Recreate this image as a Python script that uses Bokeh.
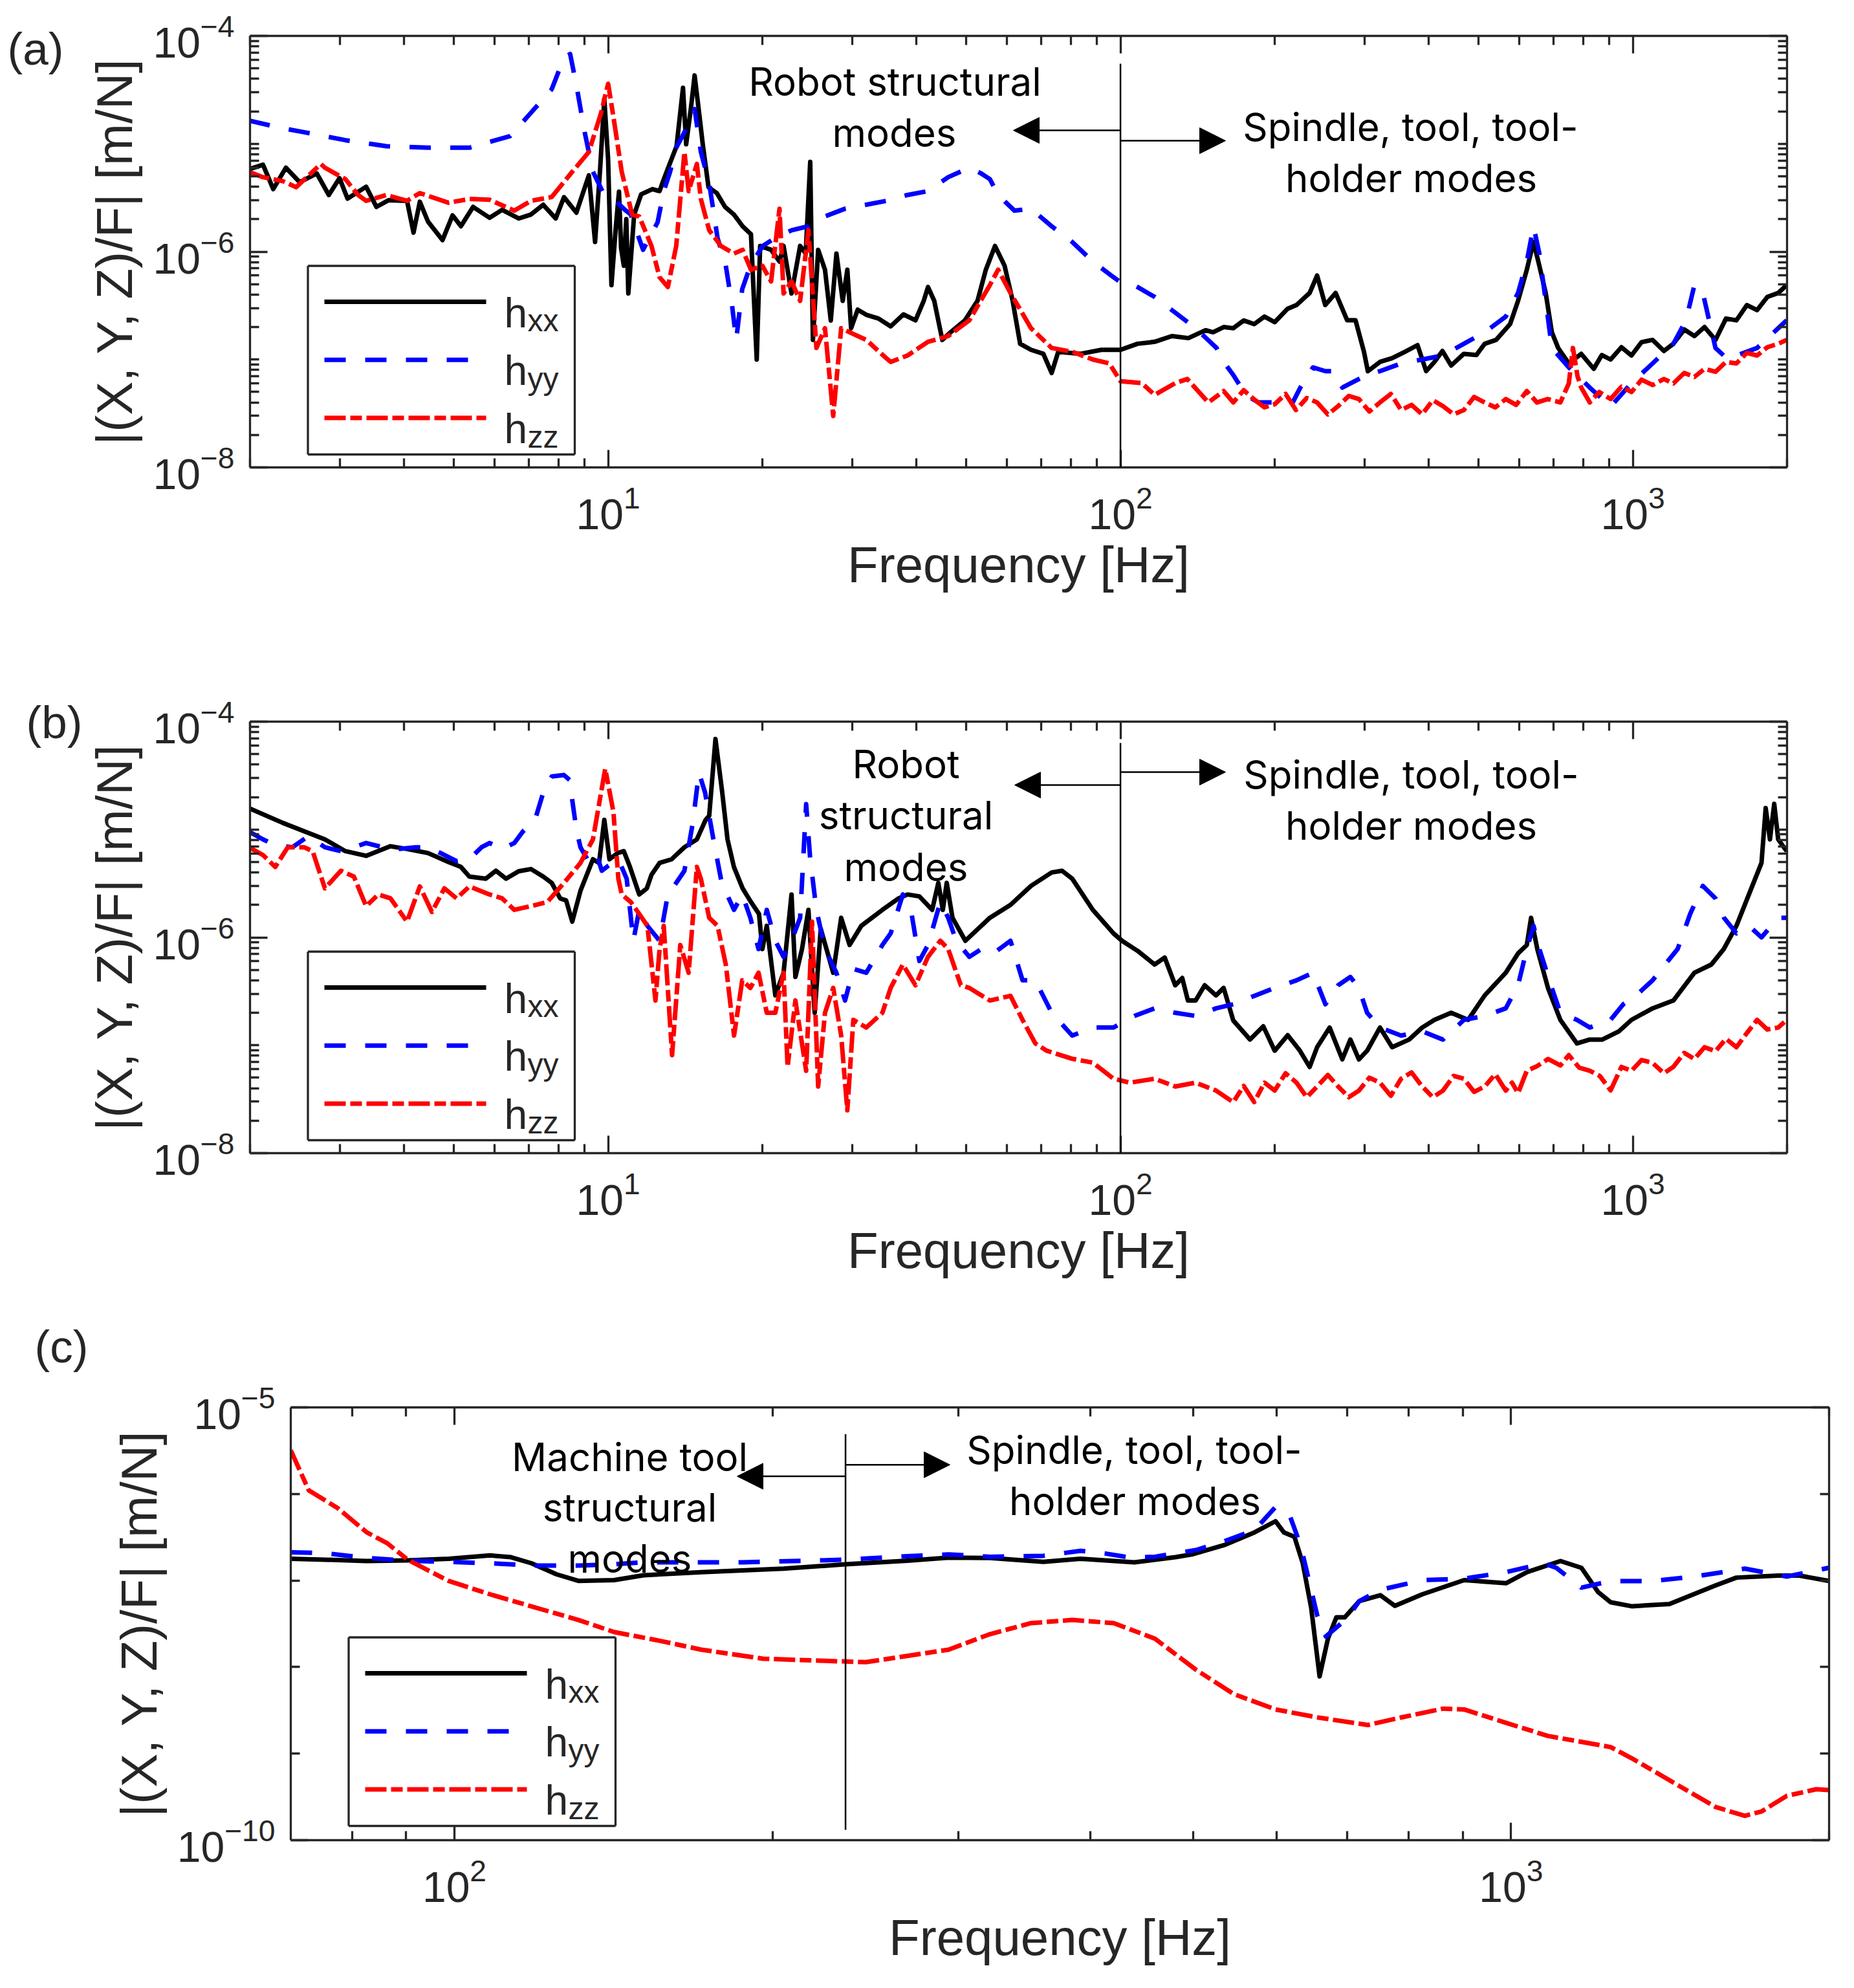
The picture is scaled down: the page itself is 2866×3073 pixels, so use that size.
import math
from bokeh.plotting import figure
from bokeh.models import LogAxis, FixedTicker, Label, Arrow, NormalHead, BoxAnnotation
from bokeh.layouts import column
from bokeh.embed import file_html
from bokeh.resources import INLINE

# values: (frequency [Hz], |X/F| [m/N])
# --- panel (a) ---
a_xx = [(1.99, 5.8e-6), (2.12, 6.4e-6), (2.22, 3.8e-6), (2.35, 6.0e-6), (2.5, 4.4e-6), (2.7, 5.3e-6),
        (2.85, 3.35e-6), (2.99, 4.8e-6), (3.1, 3.1e-6), (3.37, 4.0e-6), (3.53, 2.6e-6), (3.73, 3.0e-6),
        (4.05, 2.96e-6), (4.17, 1.5e-6), (4.29, 2.9e-6), (4.45, 1.9e-6), (4.75, 1.28e-6), (4.97, 2.17e-6),
        (5.16, 1.72e-6), (5.45, 2.6e-6), (5.87, 2.06e-6), (6.21, 2.44e-6), (6.69, 2.03e-6), (7.07, 2.21e-6),
        (7.47, 2.72e-6), (7.9, 2.03e-6), (8.2, 3.2e-6), (8.67, 2.3e-6), (9.17, 5.1e-6), (9.43, 1.23e-6),
        (9.65, 6.0e-6), (9.83, 2.6e-5), (10.0, 7.1e-6), (10.15, 4.9e-7), (10.34, 1.58e-6), (10.5, 3.6e-6),
        (10.6, 1.08e-6), (10.73, 7.4e-7), (10.85, 2.0e-6), (10.95, 4.1e-7), (11.24, 2.2e-6), (11.6, 3.4e-6),
        (12.2, 3.8e-6), (12.6, 3.64e-6), (12.84, 4.68e-6), (13.1, 6.0e-6), (13.6, 9.5e-6), (14.0, 3.3e-5),
        (14.2, 9.9e-6), (14.5, 2.1e-5), (14.75, 4.3e-5), (15.05, 1.94e-5), (15.3, 9.9e-6), (15.7, 3.96e-6),
        (16.3, 3.49e-6), (16.9, 2.61e-6), (17.6, 2.21e-6), (18.3, 1.72e-6), (19.0, 1.45e-6), (19.5, 1.0e-7),
        (19.8, 1.13e-6), (20.8, 1.04e-6), (21.6, 8.1e-7), (22.0, 1.13e-6), (22.8, 4.1e-7), (23.7, 1.13e-6),
        (24.3, 9.6e-7), (24.8, 6.8e-6), (25.1, 1.52e-7), (25.7, 1.04e-6), (26.5, 6.8e-7), (27.2, 2.3e-7),
        (27.9, 9.6e-7), (28.7, 3.5e-7), (29.3, 6.8e-7), (29.8, 1.95e-7), (30.7, 2.9e-7), (31.9, 2.6e-7),
        (33.7, 2.4e-7), (35.6, 2.03e-7), (37.7, 2.62e-7), (39.8, 2.31e-7), (41.3, 3.5e-7), (42.1, 4.7e-7),
        (43.3, 3.5e-7), (44.9, 1.52e-7), (46.6, 1.79e-7), (49.7, 2.31e-7), (52.6, 3.5e-7), (54.6, 6.8e-7),
        (56.9, 1.13e-6), (59.4, 7.4e-7), (61.6, 3.5e-7), (63.7, 1.4e-7), (66.9, 1.23e-7), (70.7, 1.13e-7),
        (73.4, 7.5e-8), (75.6, 1.18e-7), (83.6, 1.13e-7), (91.8, 1.23e-7), (100, 1.23e-7), (108, 1.4e-7),
        (116.6, 1.46e-7), (126, 1.65e-7), (135.7, 1.58e-7), (146.6, 1.87e-7), (151.6, 1.79e-7), (159, 2.0e-7),
        (166, 1.95e-7), (174, 2.3e-7), (182.4, 2.13e-7), (191, 2.5e-7), (200, 2.22e-7), (212, 2.96e-7),
        (220.6, 3.2e-7), (234, 4.14e-7), (242, 6.0e-7), (251, 3.2e-7), (263, 4.14e-7), (277, 2.31e-7),
        (287.6, 2.31e-7), (298.7, 1.18e-7), (304, 7.8e-8), (321, 9.5e-8), (339, 1.03e-7), (359, 1.18e-7),
        (380, 1.36e-7), (395, 7.8e-8), (410, 9.5e-8), (425, 1.2e-7), (442, 8.8e-8), (468, 1.13e-7),
        (495, 1.1e-7), (514, 1.4e-7), (541, 1.52e-7), (576, 2.13e-7), (597, 3.5e-7), (621, 6.8e-7),
        (640, 1.23e-6), (657, 7.4e-7), (676, 4.14e-7), (695, 1.79e-7), (715, 1.28e-7), (750, 9.2e-8),
        (793, 1.13e-7), (839, 8.2e-8), (870, 1.1e-7), (905, 1.0e-7), (950, 1.3e-7), (994, 1.09e-7),
        (1040, 1.45e-7), (1093, 1.52e-7), (1150, 1.2e-7), (1200, 1.4e-7), (1260, 1.9e-7), (1319, 1.65e-7),
        (1380, 2.0e-7), (1450, 1.52e-7), (1520, 2.4e-7), (1593, 2.31e-7), (1670, 3.2e-7), (1748, 2.87e-7),
        (1830, 3.8e-7), (1922, 4.14e-7), (1997, 4.9e-7)]
a_yy = [(1.99, 1.64e-5), (2.32, 1.39e-5), (2.55, 1.28e-5), (3.07, 1.08e-5), (3.69, 9.5e-6), (4.45, 9.2e-6),
        (5.36, 9.2e-6), (5.87, 1.04e-5), (6.44, 1.18e-5), (7.07, 1.94e-5), (7.76, 3.2e-5), (8.2, 6.3e-5),
        (8.43, 6.8e-5), (8.67, 3.5e-5), (9.0, 1.28e-5), (9.34, 5.5e-6), (9.83, 3.35e-6), (10.24, 3.08e-6),
        (10.83, 2.4e-6), (11.07, 2.21e-6), (11.7, 1.04e-6), (12.03, 1.34e-6), (12.49, 1.87e-6), (12.84, 3.64e-6),
        (13.21, 5.5e-6), (13.58, 9.2e-6), (14.09, 1.28e-5), (14.75, 2.1e-5), (15.17, 8.4e-6), (15.75, 4.3e-6),
        (16.35, 1.34e-6), (16.97, 7.4e-7), (17.45, 3.2e-7), (17.78, 1.52e-7), (18.27, 4.5e-7), (18.95, 7.4e-7),
        (20.03, 1.13e-6), (21.18, 1.34e-6), (22.82, 1.58e-6), (24.58, 1.72e-6), (26.46, 2.12e-6), (29.0, 2.5e-6),
        (31.86, 2.72e-6), (34.93, 2.96e-6), (38.35, 3.35e-6), (42.1, 3.64e-6), (46.1, 4.9e-6), (50.7, 6.0e-6),
        (53.5, 5.3e-6), (55.6, 4.7e-6), (57.7, 3.35e-6), (62.1, 2.4e-6), (66.9, 2.5e-6), (73.4, 1.72e-6),
        (80.5, 1.23e-6), (88.3, 8.1e-7), (96.9, 5.8e-7), (100.7, 5.1e-7), (106.4, 4.9e-7), (116.6, 3.8e-7),
        (127.9, 2.72e-7), (140.2, 1.95e-7), (145.5, 1.65e-7), (154, 1.28e-7), (159.8, 9.2e-8), (166, 7.2e-8),
        (175.7, 4.7e-8), (185.8, 4.0e-8), (200, 4.0e-8), (216, 3.85e-8), (224.4, 5.5e-8), (237.5, 8.45e-8),
        (251.2, 7.8e-8), (260.9, 7.8e-8), (271, 5.5e-8), (292, 6.6e-8), (303, 7.2e-8), (321, 7.8e-8),
        (353, 9.2e-8), (388, 1.0e-7), (426, 1.09e-7), (468, 1.4e-7), (514, 1.79e-7), (565, 2.5e-7),
        (597, 4.14e-7), (621, 8.1e-7), (640, 1.72e-6), (657, 9.6e-7), (676, 3.5e-7), (695, 1.28e-7),
        (750, 8.45e-8), (824, 5.5e-8), (905, 3.66e-8), (994, 6.05e-8), (1093, 9.2e-8), (1200, 1.4e-7),
        (1270, 2.31e-7), (1319, 4.9e-7), (1370, 4.14e-7), (1450, 1.28e-7), (1534, 1.0e-7), (1593, 1.09e-7),
        (1748, 1.28e-7), (1922, 1.95e-7), (1997, 2.31e-7)]
a_zz = [(1.99, 5.5e-6), (2.12, 4.9e-6), (2.32, 4.5e-6), (2.46, 3.96e-6), (2.75, 6.5e-6), (2.8, 6.0e-6),
        (3.07, 4.7e-6), (3.25, 3.35e-6), (3.37, 2.96e-6), (3.69, 3.35e-6), (4.05, 2.96e-6), (4.29, 3.49e-6),
        (4.88, 2.84e-6), (5.36, 3.08e-6), (5.87, 3.03e-6), (6.56, 2.4e-6), (7.07, 2.96e-6), (7.76, 3.21e-6),
        (8.51, 5.5e-6), (9.17, 8.4e-6), (9.69, 1.94e-5), (10.0, 3.6e-5), (10.24, 1.78e-5), (10.63, 5.5e-6),
        (11.14, 2.2e-6), (11.5, 2.12e-6), (12.15, 1.13e-6), (12.6, 5.8e-7), (13.08, 4.7e-7), (13.58, 1.13e-6),
        (14.09, 8.4e-6), (14.36, 3.64e-6), (14.9, 6.5e-6), (15.17, 3.08e-6), (15.75, 1.58e-6), (16.6, 1.13e-6),
        (17.6, 9.6e-7), (18.3, 1.04e-6), (19.0, 6.8e-7), (20.0, 7.4e-7), (20.8, 5.3e-7), (21.6, 2.5e-6),
        (22.0, 4.1e-7), (22.8, 5.3e-7), (23.7, 3.5e-7), (24.6, 1.58e-6), (25.5, 1.28e-7), (26.5, 1.95e-7),
        (27.5, 3.0e-8), (28.5, 1.95e-7), (29.6, 1.79e-7), (31.9, 1.52e-7), (34.9, 1.03e-7), (35.6, 9.5e-8),
        (38.4, 1.09e-7), (42.1, 1.46e-7), (46.1, 1.65e-7), (50.7, 2.31e-7), (55.6, 4.9e-7), (57.7, 6.8e-7),
        (61.0, 4.14e-7), (66.9, 1.95e-7), (73.4, 1.28e-7), (80.5, 1.18e-7), (88.3, 1.0e-7), (95.1, 9.2e-8),
        (100, 6.3e-8), (110, 6.05e-8), (116.6, 4.7e-8), (128, 6.05e-8), (135, 6.6e-8), (148.4, 4.0e-8),
        (159, 5.1e-8), (166, 4.0e-8), (174, 5.2e-8), (182, 4.3e-8), (191, 3.6e-8), (200, 3.85e-8),
        (210, 4.8e-8), (220, 3.4e-8), (231, 4.4e-8), (242, 4.0e-8), (254, 3.1e-8), (266, 3.7e-8),
        (279, 4.6e-8), (292, 4.3e-8), (306, 3.3e-8), (321, 4.0e-8), (337, 4.8e-8), (353, 3.4e-8),
        (370, 3.8e-8), (388, 3.1e-8), (407, 4.2e-8), (426, 3.7e-8), (447, 3.1e-8), (468, 3.4e-8),
        (490, 4.5e-8), (514, 4.0e-8), (539, 3.6e-8), (565, 4.3e-8), (592, 3.8e-8), (621, 5.1e-8),
        (650, 4.0e-8), (682, 4.3e-8), (722, 4.0e-8), (750, 6.0e-8), (764, 1.28e-7), (780, 7.0e-8),
        (793, 5.5e-8), (824, 4.0e-8), (860, 5.0e-8), (905, 4.3e-8), (950, 5.6e-8), (994, 5.0e-8),
        (1040, 6.5e-8), (1093, 5.8e-8), (1150, 6.6e-8), (1200, 6.0e-8), (1260, 7.5e-8), (1319, 6.9e-8),
        (1380, 8.2e-8), (1450, 7.7e-8), (1520, 9.5e-8), (1593, 9.2e-8), (1670, 1.15e-7), (1748, 1.09e-7),
        (1830, 1.3e-7), (1922, 1.4e-7), (1997, 1.52e-7)]

# --- panel (b) ---
b_xx = [(1.99, 1.58e-5), (2.32, 1.15e-5), (2.8, 8.1e-6), (3.07, 6.3e-6), (3.37, 5.7e-6), (3.76, 7.0e-6),
        (4.05, 6.6e-6), (4.45, 6.05e-6), (4.88, 5.0e-6), (5.16, 4.5e-6), (5.36, 3.66e-6), (5.77, 3.5e-6),
        (6.04, 4.15e-6), (6.32, 3.5e-6), (6.69, 4.1e-6), (7.07, 4.3e-6), (7.47, 3.66e-6), (7.76, 3.2e-6),
        (8.06, 2.3e-6), (8.28, 2.2e-6), (8.51, 1.4e-6), (8.83, 2.7e-6), (9.34, 5.3e-6), (9.6, 4.9e-6),
        (9.83, 1.23e-5), (10.06, 5.3e-6), (10.44, 6.05e-6), (10.73, 6.3e-6), (11.03, 4.5e-6), (11.5, 2.5e-6),
        (11.9, 2.85e-6), (12.15, 3.8e-6), (12.6, 4.9e-6), (13.3, 5.3e-6), (14.09, 6.85e-6), (14.9, 8.1e-6),
        (15.5, 1.23e-5), (15.75, 1.34e-5), (16.2, 6.9e-5), (16.7, 2.2e-5), (17.1, 8.1e-6), (17.6, 4.5e-6),
        (18.3, 2.85e-6), (19.0, 2.13e-6), (19.7, 1.65e-6), (20.0, 7.8e-7), (20.4, 1.28e-6), (21.2, 2.9e-7),
        (22.0, 4.7e-7), (22.8, 2.5e-6), (23.2, 4.3e-7), (23.9, 7.8e-7), (24.6, 1.8e-6), (25.3, 2.0e-7),
        (26.0, 1.2e-6), (27.5, 4.7e-7), (28.5, 1.52e-6), (29.6, 8.5e-7), (31.2, 1.28e-6), (34.3, 1.8e-6),
        (36.9, 2.3e-6), (38.4, 2.5e-6), (40.5, 2.4e-6), (42.9, 1.8e-6), (44.1, 3.2e-6), (45.0, 1.8e-6),
        (45.8, 3.2e-6), (47.0, 1.52e-6), (49.8, 9.3e-7), (51.6, 1.09e-6), (55.6, 1.52e-6), (61.0, 2.0e-6),
        (66.9, 3.0e-6), (73.4, 4.0e-6), (76.9, 4.15e-6), (80.5, 3.5e-6), (88.3, 1.8e-6), (96.9, 1.09e-6),
        (100.7, 9.3e-7), (108, 7.5e-7), (116.6, 5.6e-7), (122, 6.5e-7), (127.9, 3.6e-7), (132, 4.2e-7),
        (135.4, 2.6e-7), (140.2, 2.6e-7), (146, 3.6e-7), (153.6, 2.9e-7), (159, 3.4e-7), (166, 1.7e-7),
        (179, 1.13e-7), (190, 1.5e-7), (200, 8.9e-8), (212, 1.24e-7), (224, 8.9e-8), (234, 6.3e-8),
        (242, 9.6e-8), (256, 1.46e-7), (271, 7.4e-8), (281, 1.13e-7), (292, 7.4e-8), (303, 8.9e-8),
        (321, 1.46e-7), (339, 9.6e-8), (366, 1.13e-7), (388, 1.46e-7), (410, 1.72e-7), (442, 2.0e-7),
        (477, 1.72e-7), (514, 2.9e-7), (565, 4.7e-7), (597, 7.1e-7), (621, 8.5e-7), (633, 1.52e-6),
        (651, 7.8e-7), (683, 3.4e-7), (722, 1.72e-7), (778, 1.04e-7), (824, 1.13e-7), (872, 1.13e-7),
        (940, 1.35e-7), (994, 1.72e-7), (1093, 2.2e-7), (1200, 2.6e-7), (1319, 4.7e-7), (1423, 5.6e-7),
        (1505, 7.8e-7), (1593, 1.28e-6), (1685, 2.5e-6), (1783, 4.9e-6), (1817, 1.58e-5), (1852, 8.1e-6),
        (1888, 1.73e-5), (1922, 8.1e-6), (1997, 6.3e-6)]
b_yy = [(1.99, 9.6e-6), (2.12, 8.1e-6), (2.24, 7.15e-6), (2.42, 6.85e-6), (2.6, 8.7e-6), (2.8, 6.85e-6),
        (3.01, 6.3e-6), (3.19, 6.85e-6), (3.37, 7.5e-6), (3.63, 6.85e-6), (3.91, 6.6e-6), (4.21, 6.85e-6),
        (4.45, 6.85e-6), (4.71, 6.05e-6), (5.06, 5.1e-6), (5.36, 5.3e-6), (5.66, 6.85e-6), (5.87, 7.5e-6),
        (6.21, 6.6e-6), (6.56, 7.5e-6), (6.82, 9.6e-6), (7.2, 1.23e-5), (7.47, 2.2e-5), (7.76, 3.1e-5),
        (8.2, 3.2e-5), (8.43, 2.85e-5), (8.51, 1.88e-5), (8.67, 1.0e-5), (8.83, 6.85e-6), (9.2, 4.9e-6),
        (9.5, 5.8e-6), (9.72, 4.15e-6), (10.0, 4.6e-6), (10.47, 5.3e-6), (10.87, 3.5e-6), (11.2, 9.3e-7),
        (11.5, 1.8e-6), (11.93, 1.28e-6), (12.6, 9.3e-7), (13.08, 2.5e-6), (13.58, 3.2e-6), (14.09, 4.15e-6),
        (14.62, 1.13e-5), (15.04, 3.37e-5), (15.46, 2.2e-5), (16.05, 8.1e-6), (16.66, 3.2e-6), (17.61, 1.8e-6),
        (18.27, 2.5e-6), (18.95, 1.52e-6), (19.66, 7.8e-7), (20.4, 1.8e-6), (21.2, 9.3e-7), (22.0, 6.6e-7),
        (22.8, 9.3e-7), (23.7, 1.52e-6), (24.35, 1.72e-5), (24.8, 5.3e-6), (25.5, 1.8e-6), (26.5, 7.8e-7),
        (27.9, 4.7e-7), (29.0, 2.6e-7), (30.1, 5.1e-7), (31.9, 4.7e-7), (34.3, 8.5e-7), (35.6, 1.09e-6),
        (37.6, 2.5e-6), (39.0, 1.8e-6), (40.5, 6.05e-7), (42.1, 8.5e-7), (44.5, 2.13e-6), (46.1, 1.52e-6),
        (47.8, 9.3e-7), (50.7, 6.6e-7), (53.5, 7.8e-7), (56.6, 7.15e-7), (61.0, 9.3e-7), (64.4, 4.0e-7),
        (68.2, 4.0e-7), (73.4, 2.0e-7), (80.5, 1.23e-7), (88.3, 1.46e-7), (96.9, 1.46e-7), (106.4, 1.87e-7),
        (116.6, 2.2e-7), (127.9, 2.0e-7), (140.2, 1.87e-7), (153.7, 2.2e-7), (166, 2.4e-7), (182.4, 2.87e-7),
        (200, 3.4e-7), (220.6, 4.0e-7), (237.5, 4.7e-7), (251.2, 2.4e-7), (266, 3.6e-7), (281, 4.3e-7),
        (292, 3.4e-7), (303, 2.0e-7), (321, 1.46e-7), (353, 1.23e-7), (388, 1.35e-7), (426, 1.13e-7),
        (468, 1.72e-7), (514, 1.87e-7), (565, 2.2e-7), (597, 3.6e-7), (621, 7.8e-7), (640, 1.28e-6),
        (657, 7.8e-7), (695, 3.4e-7), (722, 2.0e-7), (778, 1.72e-7), (824, 1.46e-7), (905, 1.72e-7),
        (958, 2.4e-7), (1013, 2.87e-7), (1093, 4.0e-7), (1156, 5.6e-7), (1223, 7.8e-7), (1294, 1.65e-6),
        (1370, 3.0e-6), (1450, 2.3e-6), (1506, 1.52e-6), (1593, 1.09e-6), (1685, 1.28e-6), (1783, 1.0e-6),
        (1922, 1.52e-6), (1997, 1.52e-6)]
b_zz = [(1.99, 6.85e-6), (2.12, 5.8e-6), (2.24, 4.5e-6), (2.37, 6.85e-6), (2.55, 6.85e-6), (2.65, 6.3e-6),
        (2.8, 2.85e-6), (3.01, 4.15e-6), (3.19, 3.66e-6), (3.37, 1.95e-6), (3.56, 2.5e-6), (3.76, 2.3e-6),
        (4.05, 1.4e-6), (4.29, 2.97e-6), (4.53, 1.72e-6), (4.79, 2.85e-6), (5.06, 2.3e-6), (5.36, 2.97e-6),
        (5.87, 2.5e-6), (6.21, 2.3e-6), (6.56, 1.8e-6), (7.07, 1.95e-6), (7.61, 2.13e-6), (8.2, 3.2e-6),
        (8.83, 4.9e-6), (9.34, 8.1e-6), (9.87, 3.66e-5), (10.24, 1.46e-5), (10.47, 3.5e-6), (10.63, 2.5e-6),
        (11.07, 2.13e-6), (11.5, 1.65e-6), (11.93, 1.28e-6), (12.37, 2.6e-7), (12.6, 7.8e-7), (12.84, 1.28e-6),
        (13.33, 8.1e-8), (13.83, 8.5e-7), (14.36, 4.7e-7), (14.9, 4.5e-6), (15.17, 3.5e-6), (15.75, 1.52e-6),
        (16.35, 1.28e-6), (16.97, 5.6e-7), (17.61, 1.23e-7), (18.27, 4.0e-7), (18.95, 3.4e-7), (19.66, 4.7e-7),
        (20.4, 2.0e-7), (21.2, 2.0e-7), (22.0, 4.7e-7), (22.4, 6.3e-8), (23.2, 2.6e-7), (24.35, 5.8e-8),
        (25.0, 1.4e-6), (25.7, 4.15e-8), (26.5, 2.0e-7), (27.5, 3.4e-7), (28.5, 1.23e-7), (29.3, 2.5e-8),
        (30.1, 1.72e-7), (31.9, 1.46e-7), (34.3, 2.0e-7), (35.6, 3.4e-7), (37.6, 5.6e-7), (39.8, 3.6e-7),
        (42.1, 6.6e-7), (44.5, 9.3e-7), (46.1, 7.8e-7), (48.8, 3.6e-7), (50.7, 3.4e-7), (55.6, 2.6e-7),
        (61.0, 2.87e-7), (64.4, 1.72e-7), (68.2, 1.04e-7), (71.8, 8.9e-8), (80.5, 7.5e-8), (88.3, 6.9e-8),
        (96.9, 4.9e-8), (104.3, 4.5e-8), (116.6, 4.9e-8), (127.9, 4.15e-8), (140.2, 4.5e-8), (153.7, 3.8e-8),
        (166, 2.97e-8), (174, 4.2e-8), (182.4, 2.97e-8), (191, 4.5e-8), (200, 3.8e-8), (210, 5.5e-8),
        (220.6, 4.5e-8), (231, 3.3e-8), (242, 4.15e-8), (254, 5.3e-8), (266, 4.15e-8), (279, 3.3e-8),
        (292, 3.8e-8), (306, 5.0e-8), (321, 4.5e-8), (337, 3.4e-8), (353, 4.9e-8), (370, 5.6e-8),
        (388, 4.15e-8), (407, 3.3e-8), (426, 3.8e-8), (447, 5.2e-8), (468, 4.9e-8), (490, 3.7e-8),
        (514, 4.15e-8), (539, 5.4e-8), (565, 3.8e-8), (581, 4.5e-8), (597, 3.6e-8), (621, 5.8e-8),
        (650, 6.4e-8), (683, 7.46e-8), (722, 6.5e-8), (750, 8.1e-8), (786, 6.2e-8), (824, 5.8e-8),
        (862, 5.2e-8), (905, 3.82e-8), (950, 6.3e-8), (994, 5.8e-8), (1040, 7.3e-8), (1093, 6.86e-8),
        (1150, 5.5e-8), (1200, 6.31e-8), (1260, 8.5e-8), (1319, 7.46e-8), (1380, 9.6e-8), (1450, 8.81e-8),
        (1520, 1.15e-7), (1593, 9.6e-8), (1670, 1.3e-7), (1748, 1.72e-7), (1830, 1.4e-7), (1922, 1.46e-7),
        (1997, 1.72e-7)]

# --- panel (c) ---
c_xx = [(70.0, 1.78e-7), (75.5, 1.74e-7), (82.6, 1.68e-7), (90.3, 1.71e-7), (98.8, 1.78e-7), (108.1, 1.95e-7),
        (113.1, 1.86e-7), (118.3, 1.58e-7), (124.9, 1.18e-7), (131.0, 9.9e-8), (141.6, 1.01e-7), (151.0, 1.15e-7),
        (171.2, 1.25e-7), (204.9, 1.37e-7), (234.5, 1.54e-7), (268.4, 1.69e-7), (293.6, 1.84e-7), (321.2, 1.82e-7),
        (360.9, 1.64e-7), (391.3, 1.78e-7), (440.0, 1.62e-7), (481.3, 1.86e-7), (498.7, 2.0e-7), (536.4, 2.59e-7),
        (571.8, 3.6e-7), (598.5, 4.84e-7), (609.5, 3.6e-7), (623.7, 3.2e-7), (635.2, 1.58e-7), (646.9, 4.86e-8),
        (658.9, 7.8e-9), (671.0, 2.13e-8), (683.4, 3.75e-8), (696.0, 3.75e-8), (718.6, 5.8e-8), (752.2, 6.76e-8),
        (776.5, 5.09e-8), (824.0, 6.92e-8), (902.8, 1.01e-7), (989.1, 9.3e-8), (1035.4, 1.25e-7), (1113.9, 1.68e-7),
        (1165.8, 1.4e-7), (1209.0, 7.35e-8), (1242.6, 5.6e-8), (1300.6, 5.04e-8), (1412.0, 5.35e-8),
        (1561.3, 8.77e-8), (1634.3, 1.08e-7), (1790.6, 1.14e-7), (1874.6, 1.14e-7), (1998.6, 9.9e-8)]
c_yy = [(70.0, 2.12e-7), (75.5, 2.07e-7), (82.6, 1.82e-7), (90.3, 1.69e-7), (98.8, 1.64e-7), (108.1, 1.58e-7),
        (118.3, 1.49e-7), (131.0, 1.49e-7), (141.6, 1.54e-7), (150.5, 1.62e-7), (156.5, 1.62e-7), (187.3, 1.62e-7),
        (234.5, 1.74e-7), (268.4, 1.91e-7), (293.6, 2.0e-7), (321.2, 1.88e-7), (360.9, 1.93e-7), (391.3, 2.2e-7),
        (413.0, 2.05e-7), (436.0, 1.84e-7), (460.2, 1.88e-7), (503.4, 2.25e-7), (535.1, 2.84e-7), (571.8, 3.82e-7),
        (598.5, 7.06e-7), (618.0, 5.45e-7), (632.3, 2.53e-7), (644.0, 9.86e-8), (655.9, 3.84e-8), (668.0, 2.26e-8),
        (683.4, 2.86e-8), (699.2, 3.63e-8), (718.6, 5.8e-8), (752.2, 7.8e-8), (824.0, 1.01e-7), (902.8, 1.05e-7),
        (989.1, 1.25e-7), (1074.0, 1.58e-7), (1103.7, 1.4e-7), (1165.8, 8.26e-8), (1242.6, 9.86e-8),
        (1361.4, 9.86e-8), (1491.6, 1.11e-7), (1664.5, 1.37e-7), (1823.8, 1.11e-7), (1998.6, 1.4e-7)]
c_zz = [(70.0, 3.19e-6), (72.8, 1.1e-6), (77.5, 6.89e-7), (82.6, 3.6e-7), (86.4, 2.69e-7), (90.3, 1.74e-7),
        (98.8, 9.86e-8), (108.1, 6.92e-8), (116.2, 5.35e-8), (131.0, 3.5e-8), (141.6, 2.54e-8), (156.5, 2.01e-8),
        (171.2, 1.59e-8), (195.9, 1.25e-8), (224.2, 1.18e-8), (245.2, 1.14e-8), (293.6, 1.59e-8), (321.2, 2.4e-8),
        (351.3, 3.22e-8), (384.4, 3.5e-8), (420.6, 3.22e-8), (460.2, 2.13e-8), (503.4, 9.3e-9), (546.3, 4.89e-9),
        (598.5, 3.24e-9), (655.9, 2.62e-9), (731.9, 2.14e-9), (787.3, 2.62e-9), (862.7, 3.31e-9), (902.8, 3.24e-9),
        (989.1, 2.27e-9), (1083.7, 1.6e-9), (1242.6, 1.19e-9), (1300.6, 8.85e-10), (1425.0, 4.62e-10),
        (1561.3, 2.42e-10), (1664.5, 1.91e-10), (1726.5, 2.15e-10), (1823.8, 3.25e-10), (1944.5, 3.88e-10),
        (1998.6, 3.8e-10)]

AX = "#262626"
AXFONT = "Liberation Sans"
NOTEFONT = "Inter"
SUP = str.maketrans("0123456789-", "⁰¹²³⁴⁵⁶⁷⁸⁹⁻")
STYLE = {"xx": ("#000000", "solid"), "yy": ("#0000ff", "33 30"), "zz": ("#ff0000", "33 7 18 7")}
LW = 7


def pow10(e):
    return "10" + str(e).translate(SUP)


def style_axis(ax, majors, minors, show):
    ax.ticker = FixedTicker(ticks=majors, minor_ticks=minors)
    ax.axis_line_color = AX
    ax.axis_line_width = 3.3
    ax.major_tick_line_color = AX
    ax.major_tick_line_width = 3.3
    ax.minor_tick_line_color = AX
    ax.minor_tick_line_width = 3.3
    ax.major_tick_in, ax.major_tick_out = 27, 0
    ax.minor_tick_in, ax.minor_tick_out = 14, 0
    if show:
        ax.major_label_overrides = {str(t): pow10(round(math.log10(t))) for t in majors}
        ax.major_label_text_font = AXFONT
        ax.major_label_text_font_size = "66px"
        ax.major_label_text_color = AX
        ax.axis_label_text_font = AXFONT
        ax.axis_label_text_font_size = "78px"
        ax.axis_label_text_font_style = "normal"
        ax.axis_label_text_color = AX
    else:
        ax.major_label_text_font_size = "2px"
        ax.major_label_text_alpha = 0
        ax.major_label_standoff = 0


def seg(p, x0, y0, x1, y1, **kw):
    p.add_layout(Arrow(end=None, x_start=x0, y_start=y0, x_end=x1, y_end=y1, **kw))


def panel(series, xr, yr, H, borders, xmaj, xmin, ymaj, ymin, tag, tag_at, notes, vline, arrows):
    W = 2850
    L, R, T, B = borders
    fw, fh = W - L - R, H - T - B
    lx0, lx1 = math.log10(xr[0]), math.log10(xr[1])
    ly0, ly1 = math.log10(yr[0]), math.log10(yr[1])

    def at(dx, dy):  # frame pixel offset (from top-left) -> data coordinates
        return 10 ** (lx0 + dx / fw * (lx1 - lx0)), 10 ** (ly1 - dy / fh * (ly1 - ly0))

    p = figure(width=W, height=H, x_axis_type="log", y_axis_type="log", x_range=xr, y_range=yr,
               output_backend="svg", toolbar_location=None, min_border_left=L, min_border_right=R,
               min_border_top=T, min_border_bottom=B)
    if "frame_align" in p.properties():
        p.frame_align = False
    p.grid.visible = False
    p.outline_line_color = None

    for key in ("xx", "yy", "zz"):
        f, h = zip(*series[key])
        color, dash = STYLE[key]
        p.line(list(f), list(h), line_color=color, line_width=LW, line_dash=dash, line_join="round")

    xb, yl = p.below[0], p.left[0]
    style_axis(xb, xmaj, xmin, True)
    style_axis(yl, ymaj, ymin, True)
    xb.axis_label = "Frequency [Hz]"
    xb.major_label_standoff = 28
    xb.axis_label_standoff = 8
    yl.axis_label = "|(X, Y, Z)/F| [m/N]"
    yl.major_label_standoff = 24
    yl.axis_label_standoff = 12
    top, right = LogAxis(), LogAxis()
    style_axis(top, xmaj, xmin, False)
    style_axis(right, ymaj, ymin, False)
    p.add_layout(top, "above")
    p.add_layout(right, "right")

    # divider line and arrows
    vx, vtop, vbot = vline
    seg(p, vx, at(0, vtop)[1], vx, at(0, vbot)[1], line_color="black", line_width=2.5)
    for dy, tip in arrows:
        y = at(0, dy)[1]
        p.add_layout(Arrow(end=NormalHead(size=40, fill_color="black", line_color="black", line_width=1),
                           x_start=vx, y_start=y, x_end=at(tip, 0)[0], y_end=y,
                           line_color="black", line_width=2.5))
    for dx, dy, txt in notes:
        x, y = at(dx, dy)
        p.add_layout(Label(x=x, y=y, text=txt, text_font=NOTEFONT, text_font_size="60px",
                           text_align="center", text_baseline="alphabetic", text_color="black"))

    # panel tag: lives in the left side panel so it is not clipped to the frame
    tx, ty = at(*tag_at)
    p.add_layout(Label(x=tx, y=ty, text=tag, text_font=AXFONT, text_font_size="71px", text_align="left",
                       text_baseline="alphabetic", text_color=AX), "left")

    # legend
    bl, bt = at(89.5, 355.5)
    br, bb = at(502, 647)
    p.add_layout(BoxAnnotation(left=bl, right=br, top=bt, bottom=bb, fill_color="white", fill_alpha=1,
                               line_color=None))
    edge = dict(line_color=AX, line_width=3.3)
    seg(p, bl, bt, br, bt, **edge)
    seg(p, bl, bb, br, bb, **edge)
    seg(p, bl, bb, bl, bt, **edge)
    seg(p, br, bb, br, bt, **edge)
    for i, key in enumerate(("xx", "yy", "zz")):
        color, dash = STYLE[key]
        ly = 411 + 89.8 * i
        x0, y0 = at(115, ly)
        x1 = at(365, ly)[0]
        seg(p, x0, y0, x1, y0, line_color=color, line_width=LW, line_dash=dash)
        hx, hy = at(393, ly + 17)
        p.add_layout(Label(x=hx, y=hy, text="h", text_font=AXFONT, text_font_size="64px",
                           text_align="left", text_baseline="alphabetic", text_color=AX))
        sx, sy = at(429, ly + 29)
        p.add_layout(Label(x=sx, y=sy, text=key, text_font=AXFONT, text_font_size="48px",
                           text_align="left", text_baseline="alphabetic", text_color=AX))
    return p


dec_ab = [m * 10 ** k for k in (0, 1, 2) for m in range(2, 10)] + [2000]
ymin_ab = [m * 10.0 ** k for k in (-8, -7, -6, -5) for m in range(1, 10) if not (m == 1 and k in (-8, -6))]

pa = panel({"xx": a_xx, "yy": a_yy, "zz": a_zz}, (2, 2000), (1e-8, 1e-4), 1000, (386, 88, 55, 278),
           [10, 100, 1000], dec_ab, [1e-8, 1e-6, 1e-4], ymin_ab, "(a)", (-375, 20),
           [(997, 70, "Robot structural"), (996, 149, "modes"),
            (1794, 140, "Spindle, tool, tool-"), (1795, 219, "holder modes")],
           (100, 43, 667), [(146, 1180), (162, 1508)])

pb = panel({"xx": b_xx, "yy": b_yy, "zz": b_zz}, (2, 2000), (1e-8, 1e-4), 1000, (386, 88, 115, 218),
           [10, 100, 1000], dec_ab, [1e-8, 1e-6, 1e-4], ymin_ab, "(b)", (-346, 1),
           [(1014, 65, "Robot"), (1014, 144, "structural"), (1014, 224, "modes"),
            (1795, 81, "Spindle, tool, tool-"), (1795, 160, "holder modes")],
           (100, 33, 667), [(98, 1182), (78, 1508)])

dec_c = [80, 90] + [m * 100 for m in range(2, 10)] + [2000]
pc = panel({"xx": c_xx, "yy": c_yy, "zz": c_zz}, (70, 2000), (1e-10, 1e-5), 1057, (449, 23, 175, 213),
           [100, 1000], dec_c, [1e-10, 1e-5], [1e-9, 1e-8, 1e-7, 1e-6], "(c)", (-396, -94),
           [(524, 76, "Machine tool"), (524, 154, "structural"), (524, 233, "modes"),
            (1304, 65, "Spindle, tool, tool-"), (1305, 144, "holder modes")],
           (234.5, 41.5, 653), [(106.5, 690), (88.7, 1019)])

layout = column(pa, pb, pc, spacing=0)
open("out.html", "w").write(file_html(layout, INLINE))
